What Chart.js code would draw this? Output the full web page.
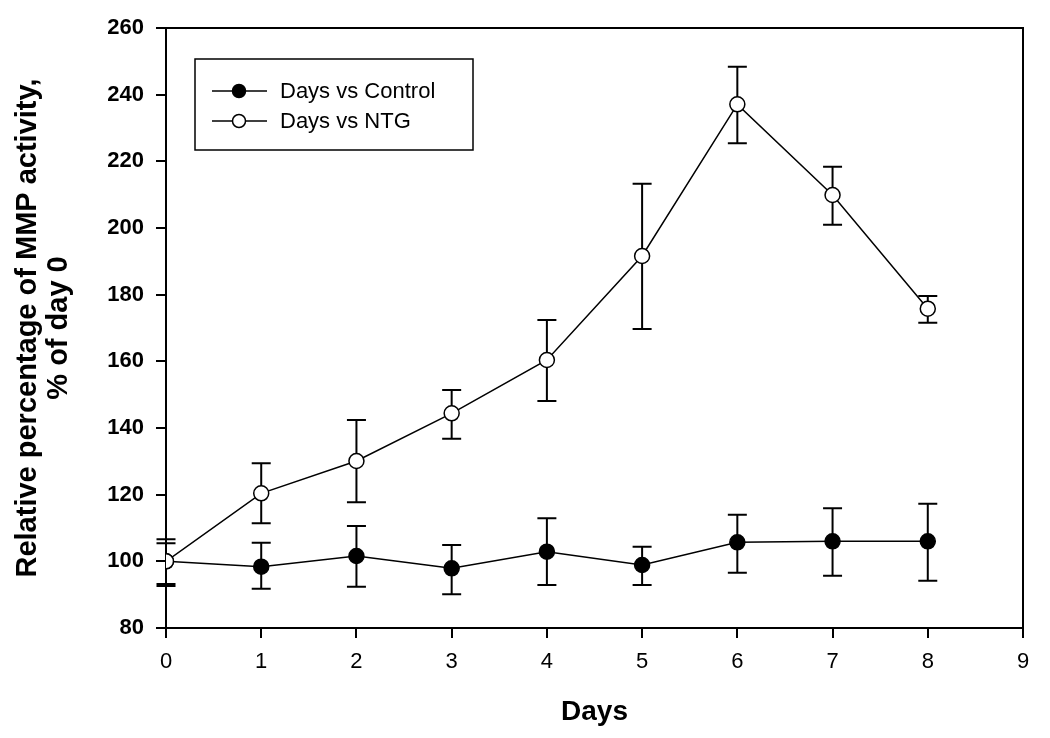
<!DOCTYPE html>
<html>
<head>
<meta charset="utf-8">
<script src="https://cdn.jsdelivr.net/npm/chart.js@4"></script>
<style>
    html, body { margin: 0; padding: 0; background: #fff; }
    #wrap { width: 1050px; height: 738px; }
</style>
</head>
<body>
<div id="wrap"><canvas id="mmpChart" width="1050" height="738"></canvas></div>
<script>
const days = [0, 1, 2, 3, 4, 5, 6, 7, 8];

// Days vs Control (filled circles)
const controlMean  = [100, 98.4, 101.6, 97.9, 102.9, 98.9, 105.7, 106.0, 106.0];
const controlUpper = [105.4, 105.6, 110.6, 104.9, 112.9, 104.4, 114.0, 115.9, 117.3];
const controlLower = [93.2, 91.8, 92.4, 90.1, 92.9, 92.9, 96.6, 95.7, 94.2];

// Days vs NTG (open circles)
const ntgMean  = [100, 120.4, 130.1, 144.4, 160.4, 191.6, 237.1, 209.9, 175.8];
const ntgUpper = [106.6, 129.4, 142.4, 151.4, 172.4, 213.3, 248.4, 218.4, 179.6];
const ntgLower = [92.6, 111.4, 117.7, 136.8, 148.1, 169.7, 225.4, 201.0, 171.6];

const seriesLabels = ['Days vs Control', 'Days vs NTG'];
const yTitle = ['Relative percentage of MMP activity,', '% of day 0'];
const xTitle = 'Days';

const FONT = '"Liberation Sans", Arial, sans-serif';

function toPoints(means) {
    return days.map((d, i) => ({ x: d, y: means[i] }));
}

// error bars, drawn under the markers
const errorBars = {
    id: 'errorBars',
    beforeDatasetsDraw(chart) {
        const { ctx, scales: { x, y } } = chart;
        const sets = [[controlUpper, controlLower], [ntgUpper, ntgLower]];
        ctx.save();
        ctx.strokeStyle = '#000';
        ctx.lineWidth = 2;
        sets.forEach(([up, lo]) => {
            days.forEach((d, i) => {
                const px = x.getPixelForValue(d);
                const pTop = y.getPixelForValue(up[i]);
                const pBot = y.getPixelForValue(lo[i]);
                ctx.beginPath();
                ctx.moveTo(px, pTop); ctx.lineTo(px, pBot);
                ctx.moveTo(px - 9.5, pTop); ctx.lineTo(px + 9.5, pTop);
                ctx.moveTo(px - 9.5, pBot); ctx.lineTo(px + 9.5, pBot);
                ctx.stroke();
            });
        });
        ctx.restore();
    }
};

// top/right frame and legend box inside the plot
const frameAndLegend = {
    id: 'frameAndLegend',
    afterDraw(chart) {
        const { ctx, chartArea: a } = chart;
        ctx.save();
        ctx.strokeStyle = '#000';
        ctx.lineWidth = 2;
        ctx.beginPath();
        ctx.moveTo(a.left, a.top);
        ctx.lineTo(a.right, a.top);
        ctx.lineTo(a.right, a.bottom);
        ctx.stroke();

        const bx = a.left + 29, by = a.top + 31, bw = 278, bh = 91;
        ctx.lineWidth = 1.5;
        ctx.strokeRect(bx, by, bw, bh);

        ctx.font = '22px ' + FONT;
        ctx.textBaseline = 'middle';
        chart.data.datasets.forEach((ds, i) => {
            const ry = by + 32 + i * 30;
            ctx.lineWidth = 1.5;
            ctx.beginPath();
            ctx.moveTo(bx + 17, ry); ctx.lineTo(bx + 72, ry);
            ctx.stroke();
            ctx.beginPath();
            ctx.arc(bx + 44, ry, 6.5, 0, Math.PI * 2);
            ctx.fillStyle = ds.pointBackgroundColor;
            ctx.fill();
            ctx.stroke();
            ctx.fillStyle = '#000';
            ctx.fillText(ds.label, bx + 85, ry + 1);
        });
        ctx.restore();
    }
};

new Chart(document.getElementById('mmpChart').getContext('2d'), {
    type: 'line',
    data: {
        datasets: [{
            label: seriesLabels[0],
            data: toPoints(controlMean),
            order: 1,
            borderColor: '#000',
            borderWidth: 1.5,
            pointRadius: 7.5,
            pointBorderWidth: 1.5,
            pointBackgroundColor: '#000',
            pointBorderColor: '#000',
            fill: false,
            tension: 0
        }, {
            label: seriesLabels[1],
            data: toPoints(ntgMean),
            order: 0,
            borderColor: '#000',
            borderWidth: 1.5,
            pointRadius: 7.5,
            pointBorderWidth: 1.5,
            pointBackgroundColor: '#fff',
            pointBorderColor: '#000',
            fill: false,
            tension: 0
        }]
    },
    options: {
        responsive: false,
        animation: false,
        layout: { padding: { left: 12, right: 27, top: 28, bottom: 9 } },
        plugins: {
            legend: { display: false },
            tooltip: { enabled: false }
        },
        scales: {
            x: {
                type: 'linear',
                min: 0,
                max: 9,
                afterFit: s => { s.height = 101; },
                ticks: {
                    stepSize: 1,
                    padding: 11,
                    color: '#000',
                    font: { family: FONT, size: 22 }
                },
                grid: { drawOnChartArea: false, drawTicks: true, tickLength: 10, color: '#000', lineWidth: 2 },
                border: { display: true, color: '#000', width: 2 },
                title: {
                    display: true,
                    text: xTitle,
                    color: '#000',
                    padding: 0,
                    font: { family: FONT, size: 28, weight: 'bold' }
                }
            },
            y: {
                min: 80,
                max: 260,
                afterFit: s => { s.width = 154; },
                ticks: {
                    stepSize: 20,
                    padding: 12,
                    color: '#000',
                    font: { family: FONT, size: 22, weight: 'bold' }
                },
                grid: { drawOnChartArea: false, drawTicks: true, tickLength: 10, color: '#000', lineWidth: 2 },
                border: { display: true, color: '#000', width: 2 },
                title: {
                    display: true,
                    text: yTitle,
                    color: '#000',
                    padding: 0,
                    font: { family: FONT, size: 29, weight: 'bold', lineHeight: 1.07 }
                }
            }
        }
    },
    plugins: [errorBars, frameAndLegend]
});
</script>
</body>
</html>
